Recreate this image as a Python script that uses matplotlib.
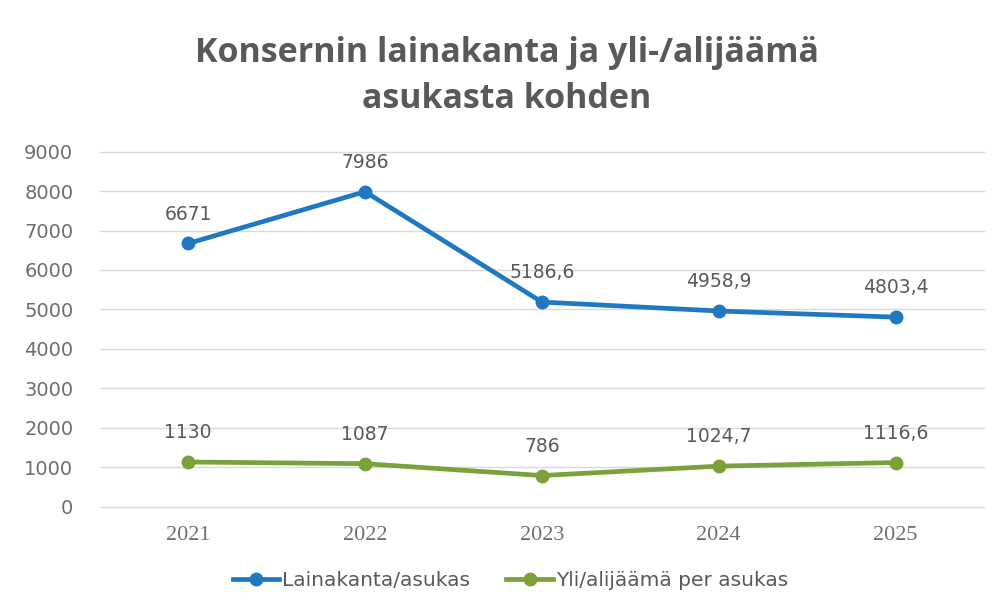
import matplotlib.pyplot as plt

years = ['2021', '2022', '2023', '2024', '2025']
lainakanta = [6671, 7986, 5186.6, 4958.9, 4803.4]
ylijaama = [1130, 1087, 786, 1024.7, 1116.6]
lainakanta_labels = ['6671', '7986', '5186,6', '4958,9', '4803,4']
ylijaama_labels = ['1130', '1087', '786', '1024,7', '1116,6']
yticks = [0, 1000, 2000, 3000, 4000, 5000, 6000, 7000, 8000, 9000]

blue = '#1f78c1'
green = '#7ba13a'
txt = '#595959'

fig = plt.figure(figsize=(9.97, 6.14), dpi=100)
ax = fig.add_axes([0.100, 0.175, 0.887, 0.578])

x = range(len(years))
ax.plot(x, lainakanta, color=blue, lw=3.4, marker='o', ms=9, label='Lainakanta/asukas')
ax.plot(x, ylijaama, color=green, lw=3.4, marker='o', ms=9, label='Yli/alijäämä per asukas')

for i in x:
    ax.annotate(lainakanta_labels[i], (i, lainakanta[i]), xytext=(0, 21),
                textcoords='offset points', ha='center', va='center',
                fontsize=13.5, color=txt, family='DejaVu Sans')
    ax.annotate(ylijaama_labels[i], (i, ylijaama[i]), xytext=(0, 21),
                textcoords='offset points', ha='center', va='center',
                fontsize=13.5, color=txt, family='DejaVu Sans')

ax.set_xlim(-0.5, 4.5)
ax.set_ylim(0, 9000)
ax.set_yticks(yticks)
ax.set_yticklabels([str(v) for v in yticks], fontsize=14, color='#6e6e6e', family='DejaVu Sans')
ax.set_xticks(list(x))
ax.set_xticklabels(years, fontsize=16, color='#707070', family='Liberation Serif')
ax.tick_params(length=0)
ax.tick_params(axis='x', pad=14)
ax.tick_params(axis='y', pad=19)
ax.grid(axis='y', color='#d9d9d9', lw=1)
for gl in ax.get_ygridlines():
    gl.set_clip_on(False)
ax.set_axisbelow(True)
for s in ax.spines.values():
    s.set_visible(False)

fig.text(0.508, 0.876, 'Konsernin lainakanta ja yli-/alijäämä\nasukasta kohden',
         ha='center', va='center', fontsize=24.5, fontweight='bold', color=txt,
         family='Open Sans', linespacing=1.45)

fig.legend(loc='center', bbox_to_anchor=(0.512, 0.055), ncol=2, frameon=False,
           prop={'family': 'DejaVu Sans', 'size': 14.5}, labelcolor=txt,
           handlelength=2.3, handletextpad=0.15, columnspacing=1.8)

fig.savefig('out.png', dpi=100, facecolor='white')
